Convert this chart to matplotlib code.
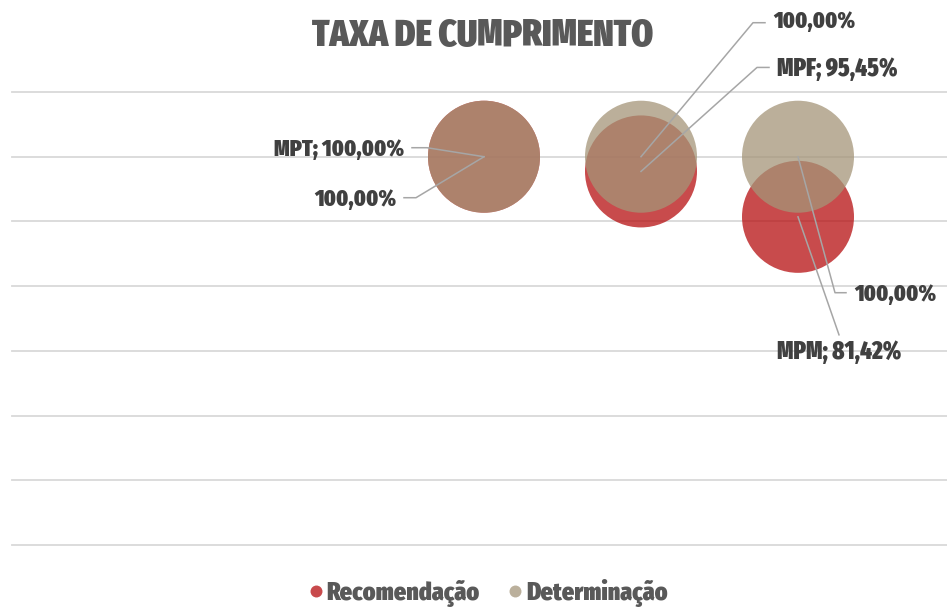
import matplotlib
matplotlib.use("Agg")
import matplotlib.pyplot as plt
import matplotlib.font_manager as fm
from matplotlib.font_manager import FontProperties
from matplotlib.lines import Line2D
from matplotlib.transforms import IdentityTransform

# ---- data ----
categories = ["MPT", "MPF", "MPM"]
x_pos = [1, 2, 3]
recomendacao = [100.00, 95.45, 81.42]
determinacao = [100.00, 100.00, 100.00]
series_names = ["Recomendação", "Determinação"]
grid_values = [-20, 0, 20, 40, 60, 80, 100, 120]
title = "TAXA DE CUMPRIMENTO"


# ---- pick a condensed bold font if one is installed ----
def pick_font():
    best, best_score = None, -1
    for f in fm.fontManager.ttflist:
        name = (f.name + " " + f.fname).lower().replace("-", "").replace("_", "").replace(" ", "")
        narrow = any(k in name for k in ("narrow", "condensed", "cond")) or f.stretch in (
            "condensed", "semi-condensed", "extra-condensed", "ultra-condensed")
        if not narrow:
            continue
        if "italic" in name or "oblique" in name or f.style != "normal":
            continue
        w = f.weight if isinstance(f.weight, int) else {"bold": 700, "heavy": 800, "black": 900}.get(f.weight, 400)
        score = 0
        if "bold" in name or w >= 700:
            score += 10
        if "extrabold" in name or "black" in name or "heavy" in name:
            score += 1
        if "extracondensed" in name or "ultracondensed" in name or f.stretch in ("extra-condensed", "ultra-condensed"):
            score += 5
        if "semicondensed" in name or f.stretch == "semi-condensed":
            score -= 3
        if "light" in name or "thin" in name or "medium" in name:
            score -= 6
        if score > best_score:
            best, best_score = f, score
    if best is not None:
        return FontProperties(fname=best.fname)
    return FontProperties(family="DejaVu Sans", weight="bold")


FP = pick_font()

RED = "#B60E10"
BEIGE = "#A49578"
ALPHA = 0.75
LABEL_C = "#404040"
LEAD_C = "#A6A6A6"

W, H = 947, 608
fig = plt.figure(figsize=(W / 100, H / 100), dpi=100)
renderer = fig.canvas.get_renderer()


def fit_size(s, target_w, base=20.0):
    t = fig.text(0, 0, s, fontproperties=FP, size=base)
    w = t.get_window_extent(renderer).width
    t.remove()
    return base * target_w / w


ax = fig.add_axes([12 / W, 1 - 545 / H, 935 / W, 453 / H])
ax.set_xlim(1 - 472 / 157, 3 + 149 / 157)
ax.set_ylim(-20, 120)
ax.axis("off")

for v in grid_values:
    ax.axhline(v, color="#D9D9D9", lw=1.3, zorder=0, clip_on=False)

bubble_px = 112
s = (bubble_px * 72 / 100) ** 2
ax.scatter(x_pos, recomendacao, s=s, color=RED, alpha=ALPHA, edgecolors="none", zorder=2)
ax.scatter(x_pos, determinacao, s=s, color=BEIGE, alpha=ALPHA, edgecolors="none", zorder=3)


def fmt(v):
    return f"{v:.2f}".replace(".", ",") + "%"


def leader(x, y, pts, label, lx, ly, ha, va, tw):
    X, Y = ax.transData.transform((x, y))
    xs = [X] + [X + dx for dx, dy in pts]
    ys = [Y] + [Y + dy for dx, dy in pts]
    fig.add_artist(Line2D(xs, ys, transform=IdentityTransform(), color=LEAD_C, lw=1.1, zorder=5))
    ax.annotate(label, xy=(x, y), xytext=(lx, ly), textcoords="offset pixels",
                ha=ha, va=va, fontproperties=FP, size=fit_size(label, tw), color=LABEL_C,
                zorder=6, annotation_clip=False)


# layout for labels (pixel offsets from bubble centre, target text width)
rec_layout = [
    ([(-57, 9), (-72, 9)], -80, 7, "right", "center", 130),
    ([(116, 104), (128, 104)], 136, 102, "left", "center", 120),
    ([(41, -118)], 41, -136, "center", "center", 124),
]
det_layout = [
    ([(-68, -41), (-80, -41)], -88, -43, "right", "center", 82),
    ([(112, 134), (124, 134)], 132, 135, "left", "center", 82),
    ([(37, -136), (48, -136)], 56, -138, "left", "center", 82),
]

for i, cat in enumerate(categories):
    pts, lx, ly, ha, va, tw = rec_layout[i]
    leader(x_pos[i], recomendacao[i], pts, f"{cat}; {fmt(recomendacao[i])}", lx, ly, ha, va, tw)
    pts, lx, ly, ha, va, tw = det_layout[i]
    leader(x_pos[i], determinacao[i], pts, fmt(determinacao[i]), lx, ly, ha, va, tw)

fig.text(483 / W, 1 - 36 / H, title, ha="center", va="center", fontproperties=FP,
         size=fit_size(title, 342), color="#595959")

handles = [
    Line2D([], [], marker="o", ls="", markersize=8.6, markerfacecolor="#C84A4C", markeredgecolor="none"),
    Line2D([], [], marker="o", ls="", markersize=8.6, markerfacecolor="#BBB09C", markeredgecolor="none"),
]
leg_fp = FP.copy()
leg_size = fit_size(series_names[0], 153)
leg_fp.set_size(leg_size)
leg = fig.legend(handles, series_names, loc="center", bbox_to_anchor=(488 / W, 1 - 593 / H),
                 ncol=2, frameon=False, handletextpad=0.13, columnspacing=1.07, handlelength=0.6,
                 borderpad=0.0, prop=leg_fp, labelcolor="#595959")

fig.savefig("out.png", dpi=100)
